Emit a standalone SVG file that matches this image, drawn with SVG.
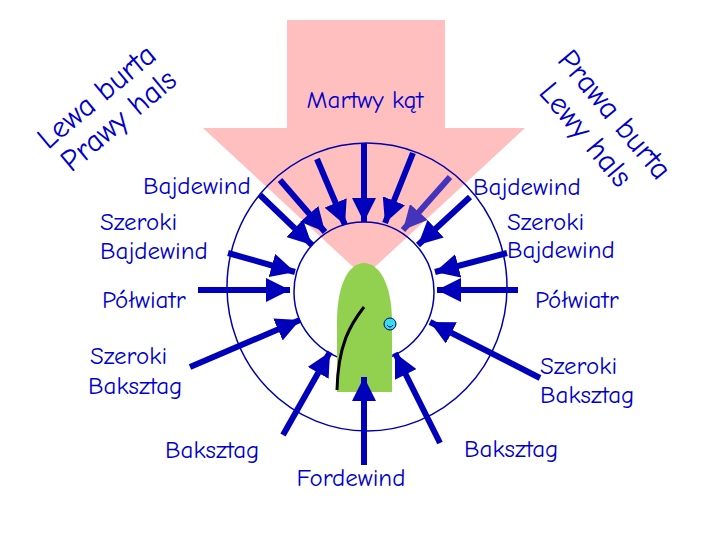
<svg xmlns="http://www.w3.org/2000/svg" width="727" height="544" viewBox="0 0 727 544">
<style>
text{font-family:"Comic Neue","DejaVu Sans",sans-serif;fill:#0000cc;font-size:25px}
.big{font-size:31px}
.a{stroke:#0000bb;stroke-width:6;marker-end:url(#h)}
</style>
<defs>
<marker id="h" markerUnits="userSpaceOnUse" markerWidth="26" markerHeight="24" refX="24" refY="12" orient="auto"><path d="M0,0 L24,12 L0,24 Z" fill="#0000bb"/></marker>
<marker id="h2" markerUnits="userSpaceOnUse" markerWidth="26" markerHeight="24" refX="24" refY="12" orient="auto"><path d="M0,0 L24,12 L0,24 Z" fill="#4433bb"/></marker>
</defs>
<rect width="727" height="544" fill="#fff"/>
<g id="deadzone"><path d="M287,20 H445 V128 H525 L364,277 L203,128 H287 Z" fill="#ffbfbf"/></g>
<g id="circles" fill="none" stroke="#0000aa" stroke-width="1.5">
<ellipse cx="367" cy="287" rx="140" ry="144"/>
<circle cx="364" cy="292" r="70" fill="none"/>
</g>
<g id="boat">
<path d="M337,392 L337,322 C337,282 350,263 364,263 C378,263 392,282 392,322 L392,392 Z" fill="#92d050"/>
<path d="M364,307 C350,325 338,345 337,390" fill="none" stroke="#000" stroke-width="3"/>
<circle cx="390" cy="324" r="6" fill="#33ddee" stroke="#006" stroke-width="1"/>
<path d="M387,325 Q390,329 393,325" fill="none" stroke="#006" stroke-width="1"/>
</g>
<g id="connectors">
<line class="a" x1="364" y1="143" x2="364" y2="222"/>
<line class="a" x1="317" y1="159" x2="345" y2="225"/>
<line class="a" x1="280" y1="180" x2="325" y2="232"/>
<line class="a" x1="260" y1="195" x2="312" y2="245"/>
<line class="a" x1="228" y1="253" x2="295" y2="272"/>
<line class="a" x1="198" y1="290" x2="290" y2="290"/>
<line class="a" x1="190" y1="367" x2="300" y2="320"/>
<line class="a" x1="283" y1="435" x2="330" y2="352"/>
<line class="a" x1="364" y1="465" x2="364" y2="377"/>
<line class="a" x1="413" y1="153" x2="385" y2="223"/>
<line class="a" x1="450" y1="177" x2="403" y2="230" style="stroke:#4433bb;marker-end:url(#h2)"/>
<line class="a" x1="470" y1="197" x2="418" y2="245"/>
<line class="a" x1="507" y1="253" x2="435" y2="272"/>
<line class="a" x1="518" y1="290" x2="437" y2="290"/>
<line class="a" x1="540" y1="378" x2="430" y2="322"/>
<line class="a" x1="440" y1="443" x2="395" y2="353"/>
</g>
<g id="labels">
<text x="365" y="108" text-anchor="middle">Martwy kąt</text>
<text x="143" y="194">Bajdewind</text>
<text x="100" y="230">Szeroki</text>
<text x="100" y="259">Bajdewind</text>
<text x="102" y="308">Półwiatr</text>
<text x="90" y="364">Szeroki</text>
<text x="88" y="394">Baksztag</text>
<text x="165" y="458">Baksztag</text>
<text x="351" y="486" text-anchor="middle">Fordewind</text>
<text x="473" y="195">Bajdewind</text>
<text x="507" y="230">Szeroki</text>
<text x="507" y="258">Bajdewind</text>
<text x="535" y="308">Półwiatr</text>
<text x="540" y="374">Szeroki</text>
<text x="540" y="403">Baksztag</text>
<text x="464" y="457">Baksztag</text>
<text class="big" transform="translate(103,104) rotate(-40)" text-anchor="middle">Lewa burta</text>
<text class="big" transform="translate(125,128) rotate(-40)" text-anchor="middle">Prawy hals</text>
<text class="big" transform="translate(607,121) rotate(50)" text-anchor="middle">Prawa burta</text>
<text class="big" transform="translate(578,141) rotate(50)" text-anchor="middle">Lewy hals</text>
</g>
</svg>
